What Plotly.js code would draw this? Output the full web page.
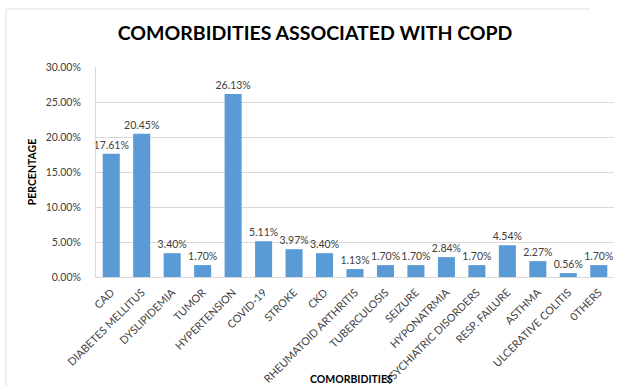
<!DOCTYPE html>
<html>
<head>
<meta charset="utf-8">
<script src="https://cdn.plot.ly/plotly-3.0.1.min.js"></script>
<style>
  html, body { margin: 0; padding: 0; background: #ffffff; }
  #chart { width: 619px; height: 386px; }
</style>
</head>
<body>
<div id="chart"></div>
<script>
// Comorbidities observed in COPD patients, as share of cases (%)
const categories = [
  "CAD", "DIABETES MELLITUS", "DYSLIPIDEMIA", "TUMOR", "HYPERTENSION",
  "COVID-19", "STROKE", "CKD", "RHEUMATOID ARTHRITIS", "TUBERCULOSIS",
  "SEIZURE", "HYPONATRMIA", "PSYCHIATRIC DISORDERS", "RESP. FAILURE",
  "ASTHMA", "ULCERATIVE COLITIS", "0THERS"
];
const percentages = [
  17.61, 20.45, 3.40, 1.70, 26.13,
  5.11, 3.97, 3.40, 1.13, 1.70,
  1.70, 2.84, 1.70, 4.54,
  2.27, 0.56, 1.70
];
const yTickValues = [0, 5, 10, 15, 20, 25, 30];

const FONT = "Lato, 'Open Sans', 'DejaVu Sans', sans-serif";
const plotLeft = 96, plotRight = 614, plotTop = 67, plotBottom = 277;
const W = 619, H = 386;
const pw = plotRight - plotLeft, ph = plotBottom - plotTop;

// helpers: convert page pixels into paper coordinates
const px = x => (x - plotLeft) / pw;
const py = y => (plotBottom - y) / ph;

const trace = {
  type: "bar",
  x: categories,
  y: percentages,
  marker: { color: "#5b9bd5" },
  text: percentages.map(v => v.toFixed(2) + "%"),
  textposition: "outside",
  constraintext: "none",
  cliponaxis: false,
  textfont: { family: FONT, size: 10.5, color: "#404040" },
  hoverinfo: "x+y"
};

const layout = {
  width: W,
  height: H,
  margin: { l: plotLeft, r: W - plotRight, t: plotTop, b: H - plotBottom, pad: 0 },
  paper_bgcolor: "#ffffff",
  plot_bgcolor: "#ffffff",
  showlegend: false,
  bargap: 0.44,
  uniformtext: { mode: false },
  title: {
    text: "<b>COMORBIDITIES ASSOCIATED WITH COPD</b>",
    font: { family: FONT, size: 19.5, color: "#000000" },
    x: 0.509, xanchor: "center",
    y: 1 - 33 / H, yanchor: "middle"
  },
  xaxis: {
    type: "category",
    tickangle: -45,
    tickfont: { family: FONT, size: 10.8, color: "#404040" },
    showgrid: false,
    showline: true,
    linecolor: "#d9d9d9",
    linewidth: 1,
    ticks: "",
    ticklabelstandoff: 4,
    automargin: false,
    fixedrange: true
  },
  yaxis: {
    range: [0, 30],
    tickvals: yTickValues,
    ticktext: yTickValues.map(v => v.toFixed(2) + "%"),
    tickfont: { family: FONT, size: 10.5, color: "#404040" },
    showgrid: true,
    gridcolor: "#d9d9d9",
    gridwidth: 1,
    zeroline: false,
    showline: true,
    linecolor: "#d9d9d9",
    ticks: "",
    ticklabelstandoff: 12,
    automargin: false,
    fixedrange: true,
    title: {
      text: "<b>PERCENTAGE</b>",
      font: { family: FONT, size: 10.5, color: "#000000" },
      standoff: 6
    }
  },
  annotations: [
    {
      text: "<b>COMORBIDITIES</b>",
      xref: "paper", yref: "paper",
      x: px(351), y: py(379),
      xanchor: "center", yanchor: "middle",
      showarrow: false,
      font: { family: FONT, size: 10.5, color: "#000000" }
    }
  ],
  shapes: [
    // light frame around the chart (left and top edges)
    {
      type: "line", xref: "paper", yref: "paper",
      x0: px(6), x1: px(6), y0: py(9), y1: py(H + 2),
      line: { color: "#dedede", width: 1 }
    },
    {
      type: "line", xref: "paper", yref: "paper",
      x0: px(6), x1: px(590), y0: py(9), y1: py(9),
      line: { color: "#dedede", width: 1 }
    }
  ]
};

Plotly.newPlot("chart", [trace], layout, { displayModeBar: false, staticPlot: true });
</script>
</body>
</html>
